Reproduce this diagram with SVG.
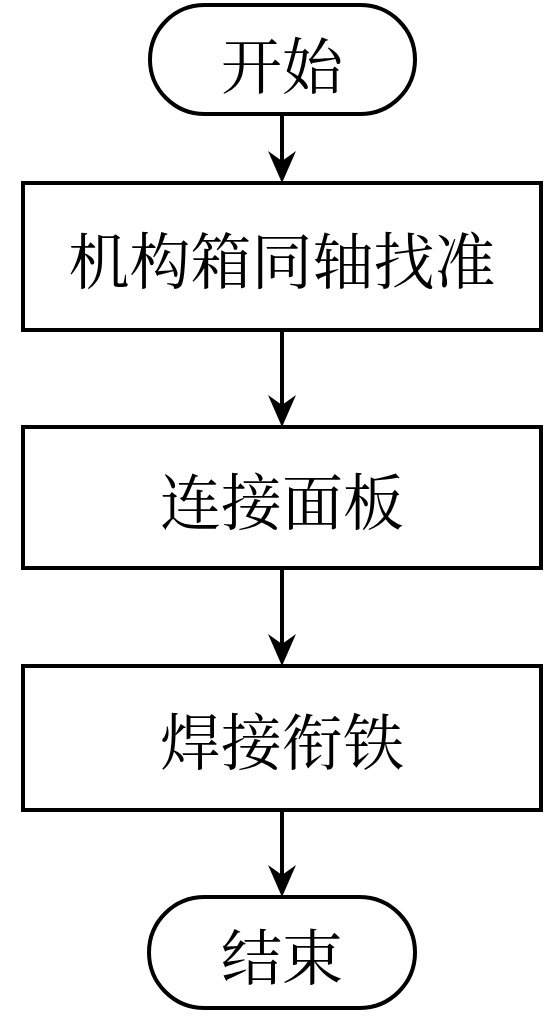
<svg xmlns="http://www.w3.org/2000/svg" width="552" height="1020" viewBox="0 0 552 1020">
  <style>
    .box { fill: #fff; stroke: #000; stroke-width: 4; }
    .lbl { font-family: "Noto Serif CJK SC", "Noto Sans CJK SC", serif; font-size: 61px; fill: #000; text-anchor: middle; dominant-baseline: central; }
    .ln { stroke: #000; stroke-width: 4; fill: none; }
    .ah { fill: #000; stroke: none; }
  </style>
  <defs>
    <path id="head" d="M -14,-32 L 0,0 L 14,-32 L 0,-22 Z"/>
  </defs>
  <rect width="552" height="1020" fill="#fff"/>
  <g id="connectors">
    <line class="ln" x1="282" y1="114" x2="282" y2="170"/>
    <use href="#head" class="ah" x="282" y="183"/>
    <line class="ln" x1="282" y1="330" x2="282" y2="414"/>
    <use href="#head" class="ah" x="282" y="427"/>
    <line class="ln" x1="282" y1="568" x2="282" y2="653"/>
    <use href="#head" class="ah" x="282" y="666"/>
    <line class="ln" x1="282" y1="810" x2="282" y2="884"/>
    <use href="#head" class="ah" x="282" y="897"/>
  </g>
  <g id="start">
    <rect class="box" x="150" y="5" width="265" height="109" rx="54.5" ry="54.5"/>
    <text class="lbl" x="282" y="62">开始</text>
  </g>
  <g id="step1">
    <rect class="box" x="23" y="183" width="518" height="147"/>
    <text class="lbl" x="282" y="257">机构箱同轴找准</text>
  </g>
  <g id="step2">
    <rect class="box" x="23" y="427" width="518" height="141"/>
    <text class="lbl" x="282" y="498">连接面板</text>
  </g>
  <g id="step3">
    <rect class="box" x="23" y="666" width="518" height="144"/>
    <text class="lbl" x="282" y="738">焊接衔铁</text>
  </g>
  <g id="end">
    <rect class="box" x="149" y="897" width="266" height="111" rx="55.5" ry="55.5"/>
    <text class="lbl" x="282" y="953">结束</text>
  </g>
</svg>
